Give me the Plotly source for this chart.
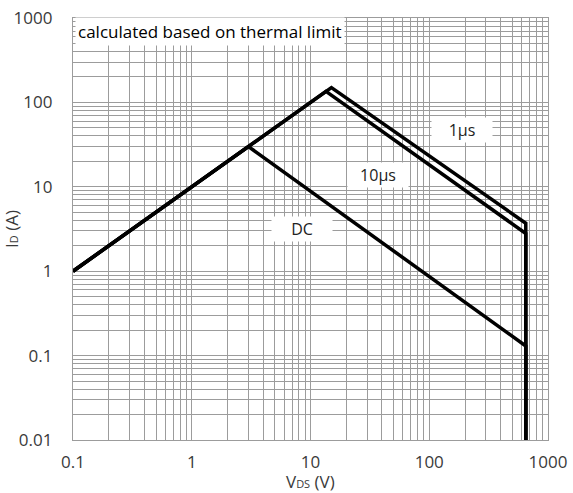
import plotly.graph_objects as go

# Safe operating area curves (V_DS in volts, I_D in amps)
dc_v = [0.1, 3.0, 650, 650]
dc_i = [1.0, 30.0, 0.13, 0.01]

us10_v = [0.1, 13.5, 650, 650]
us10_i = [1.0, 135.0, 2.8, 0.01]

us1_v = [0.1, 15.0, 650, 650]
us1_i = [1.0, 150.0, 3.7, 0.01]

x_ticks = [0.1, 1, 10, 100, 1000]
x_labels = ["0.1", "1", "10", "100", "1000"]
y_ticks = [0.01, 0.1, 1, 10, 100, 1000]
y_labels = ["0.01", "0.1", "1", "10", "100", "1000"]

# minor grid at 2..9 times each decade
x_minor = [d * m for d in [0.1, 1, 10, 100] for m in range(2, 10)]
y_minor = [d * m for d in [0.01, 0.1, 1, 10, 100] for m in range(2, 10)]

FONT = "Open Sans"
GRID = "#9c9c9c"

fig = go.Figure()
for v, i, name in [(dc_v, dc_i, "DC"), (us10_v, us10_i, "10μs"), (us1_v, us1_i, "1μs")]:
    fig.add_trace(go.Scatter(x=v, y=i, mode="lines", name=name,
                             line=dict(color="black", width=3.5),
                             showlegend=False, hoverinfo="skip"))

axis_common = dict(
    type="log", showgrid=True, gridcolor=GRID, gridwidth=1.3, automargin=False,
    showline=True, linecolor=GRID, linewidth=1.3, mirror=True,
    zeroline=False, ticks="", tickfont=dict(family=FONT, size=17, color="#3a3a3a"),
)

fig.update_xaxes(range=[-1, 3], tickvals=x_ticks, ticktext=x_labels,
                 ticklabelstandoff=6,
                 minor=dict(tickvals=x_minor, showgrid=True, gridcolor=GRID, gridwidth=1.3, ticks=""),
                 **axis_common)
fig.update_yaxes(range=[-2, 3], tickvals=y_ticks, ticktext=y_labels,
                 ticklabelstandoff=16,
                 minor=dict(tickvals=y_minor, showgrid=True, gridcolor=GRID, gridwidth=1.3, ticks=""),
                 title=dict(text="I<span style='font-size:11px'>D</span> (A)",
                            font=dict(family=FONT, size=17, color="#3a3a3a"),
                            standoff=12),
                 **axis_common)

# x-axis title placed below the tick labels
fig.add_annotation(text="V<span style='font-size:11px'>DS</span> (V)", xref="paper", yref="paper",
                   x=0.5, y=-0.098, xanchor="center", yanchor="middle", showarrow=False,
                   font=dict(family=FONT, size=17, color="#3a3a3a"))

fig.add_annotation(text="calculated based on thermal limit", xref="paper", yref="paper",
                   x=0.004, y=0.967, xanchor="left", yanchor="middle", showarrow=False,
                   bgcolor="white", borderpad=2,
                   font=dict(family=FONT, size=17, color="black"))

for txt, px, py, w in [("1μs", 0.819, 0.735, 58), ("10μs", 0.642, 0.628, 58), ("DC", 0.482, 0.5, 58)]:
    fig.add_annotation(text=txt, xref="paper", yref="paper", x=px, y=py,
                       xanchor="center", yanchor="middle", showarrow=False,
                       bgcolor="white", width=w, height=22,
                       font=dict(family=FONT, size=16, color="#222222"))

fig.update_layout(width=573, height=493, margin=dict(l=73, r=25, t=18, b=53),
                  plot_bgcolor="white", paper_bgcolor="white")

fig.write_html("out.html")
